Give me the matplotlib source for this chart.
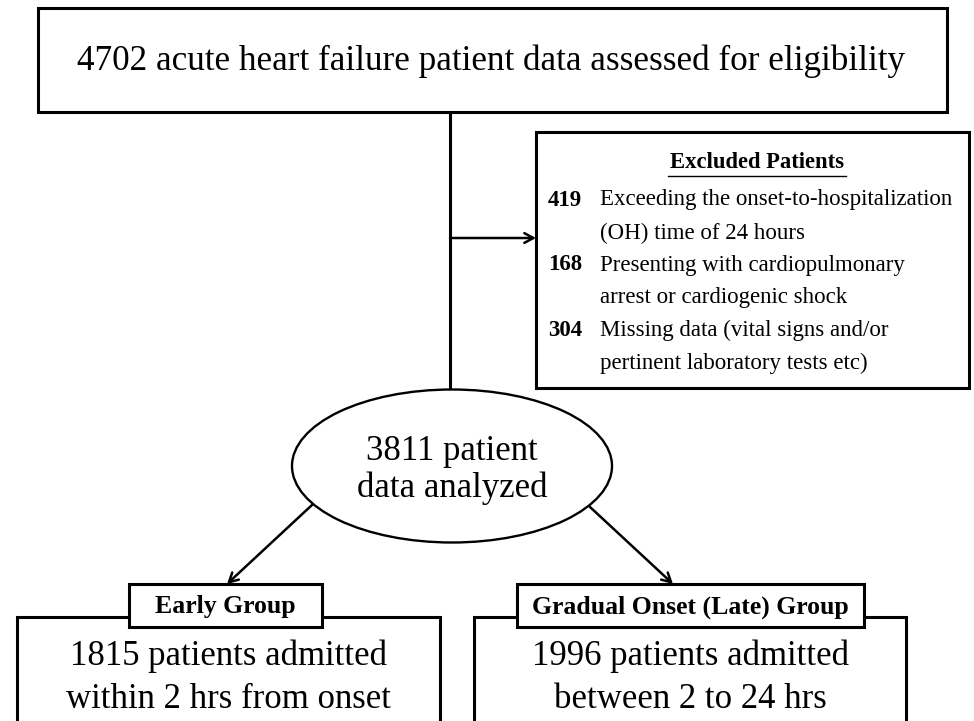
"""
Flow chart of patient selection: assessed -> excluded -> analyzed -> two onset groups.
"""

import matplotlib
matplotlib.use("Agg")
import matplotlib.pyplot as plt
from matplotlib.patches import Rectangle, Ellipse


# ─────────────────────────────────────────────
# Data
# ─────────────────────────────────────────────

TOTAL_ASSESSED = 4702
EXCLUDED_COUNTS = [419, 168, 304]
EXCLUDED_REASONS = [
    ["Exceeding the onset-to-hospitalization", "(OH) time of 24 hours"],
    ["Presenting with cardiopulmonary", "arrest or cardiogenic shock"],
    ["Missing data (vital signs and/or", "pertinent laboratory tests etc)"],
]
ANALYZED = 3811
GROUP_NAMES = ["Early Group", "Gradual Onset (Late) Group"]
GROUP_COUNTS = [1815, 1996]
GROUP_DESC = ["within 2 hrs from onset", "between 2 to 24 hrs"]

FONT = "Liberation Serif"
LW = 2.2


# ─────────────────────────────────────────────
# Helpers
# ─────────────────────────────────────────────

def box(ax, x0, y0, x1, y1, lw=LW, z=2):
    ax.add_patch(Rectangle((x0, y0), x1 - x0, y1 - y0, fill=True, facecolor="white",
                           edgecolor="black", lw=lw, zorder=z))


def arrow(ax, start, end):
    ax.annotate("", xy=end, xytext=start,
                arrowprops=dict(arrowstyle="->,head_length=0.65,head_width=0.35",
                                lw=1.8, color="black", shrinkA=0, shrinkB=0),
                zorder=5)


# ─────────────────────────────────────────────
# Draw
# ─────────────────────────────────────────────

fig = plt.figure(figsize=(9.74, 7.21), dpi=100)
ax = fig.add_axes([0, 0, 1, 1])
ax.set_xlim(0, 974)
ax.set_ylim(721, 0)
ax.axis("off")

# top box
box(ax, 38, 8, 947, 112)
ax.text(491, 61, f"{TOTAL_ASSESSED} acute heart failure patient data assessed for eligibility",
        ha="center", va="center", fontsize=25.3, family=FONT, zorder=3)

# trunk + branch to exclusion box
ax.plot([450, 450], [112, 390], color="black", lw=LW, zorder=1)
arrow(ax, (450, 238), (536, 238))

# exclusion box
box(ax, 536, 132, 969, 388)
ax.text(757, 163, "Excluded Patients", ha="center", va="center", fontsize=16.3,
        fontweight="bold", family=FONT, zorder=3)
ax.plot([668, 846], [176, 176], color="black", lw=1.0, zorder=3)
ys = [200, 265, 330]
for y, n, reason in zip(ys, EXCLUDED_COUNTS, EXCLUDED_REASONS):
    ax.text(548, y, str(n), ha="left", va="center", fontsize=16.5, fontweight="bold",
            family=FONT, zorder=3)
    ax.text(600, y, reason[0], ha="left", va="center", fontsize=16.5, family=FONT, zorder=3)
    ax.text(600, y + 33, reason[1], ha="left", va="center", fontsize=16.5, family=FONT, zorder=3)

# ellipse
ax.add_patch(Ellipse((452, 466), 320, 153, facecolor="white", edgecolor="black",
                     lw=1.7, zorder=2))
ax.text(452, 451, f"{ANALYZED} patient", ha="center", va="center", fontsize=25,
        family=FONT, zorder=3)
ax.text(452, 488, "data analyzed", ha="center", va="center", fontsize=25,
        family=FONT, zorder=3)

# branches to the groups
arrow(ax, (312, 505), (227, 584))
arrow(ax, (590, 507), (673, 584))

# group boxes
big = [(17, 440), (474, 906)]
labels = [(129, 322), (517, 864)]
for (bx0, bx1), (lx0, lx1), name, n, desc in zip(big, labels, GROUP_NAMES,
                                                 GROUP_COUNTS, GROUP_DESC):
    box(ax, bx0, 617, bx1, 780, z=2)
    box(ax, lx0, 584, lx1, 627, z=4)
    ax.text((lx0 + lx1) / 2, 607, name, ha="center", va="center", fontsize=18.5,
            fontweight="bold", family=FONT, zorder=5)
    cx = (bx0 + bx1) / 2
    ax.text(cx, 656, f"{n} patients admitted", ha="center", va="center",
            fontsize=25, family=FONT, zorder=3)
    ax.text(cx, 700, desc, ha="center", va="center", fontsize=25, family=FONT, zorder=3)

fig.savefig("out.png", dpi=100)
